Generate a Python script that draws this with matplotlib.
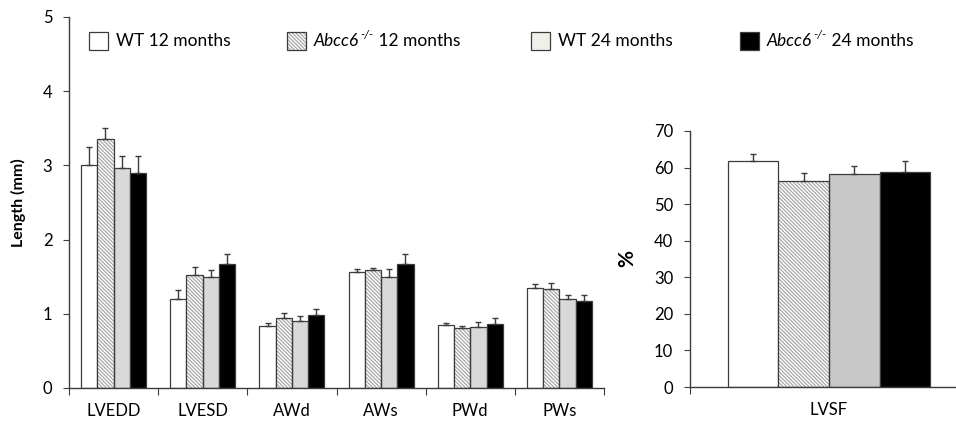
import matplotlib.pyplot as plt
from matplotlib.patches import Rectangle
from matplotlib.text import Annotation
import numpy as np

plt.rcParams["font.family"] = ["Lato", "DejaVu Sans"]
plt.rcParams["hatch.linewidth"] = 0.9

# data
categories = ["LVEDD", "LVESD", "AWd", "AWs", "PWd", "PWs"]
series = ["WT 12 months", "Abcc6 12 months", "WT 24 months", "Abcc6 24 months"]
length_means = [
    [3.00, 1.20, 0.835, 1.563, 0.853, 1.352],
    [3.36, 1.52, 0.947, 1.585, 0.813, 1.339],
    [2.96, 1.49, 0.907, 1.490, 0.827, 1.200],
    [2.90, 1.67, 0.984, 1.670, 0.867, 1.170],
]
length_err = [
    [0.25, 0.12, 0.035, 0.037, 0.023, 0.054],
    [0.15, 0.11, 0.059, 0.035, 0.017, 0.081],
    [0.17, 0.10, 0.059, 0.120, 0.067, 0.060],
    [0.22, 0.13, 0.086, 0.130, 0.080, 0.080],
]
lvsf_means = [61.8, 56.3, 58.3, 58.7]
lvsf_err = [1.9, 2.1, 2.0, 3.0]

faces = ["white", "white", "#d9d9d9", "black"]
faces_right = ["white", "white", "#c8c8c8", "black"]
hatched = [False, True, False, False]
legend_faces = ["white", "white", "#f0efea", "black"]
edge = "#3c3c3c"
hatch_col = "#a8a8a8"
hatch_pat = "\\" * 9
bar_frac = 0.73
bw = bar_frac / 4

W, H = 956, 421
fig = plt.figure(figsize=(W / 100, H / 100), dpi=100)
ax1 = fig.add_axes([69 / W, 1 - 388 / H, 535 / W, 371 / H])
ax2 = fig.add_axes([690 / W, 1 - 387 / H, 278 / W, 256 / H])


def draw_bars(ax, pos, vals, errs, i, face):
    if hatched[i]:
        # hatch in light gray, outline on top in dark gray
        ax.bar(pos, vals, width=bw, color=face, edgecolor=hatch_col,
               linewidth=0, hatch=hatch_pat, zorder=2)
        ax.bar(pos, vals, width=bw, fill=False, edgecolor=edge,
               linewidth=0.9, zorder=2.1)
    else:
        ax.bar(pos, vals, width=bw, color=face, edgecolor=edge,
               linewidth=0.9, zorder=2)
    ax.errorbar(pos, vals, yerr=[np.zeros(len(vals)), errs], fmt="none",
                ecolor=edge, elinewidth=1, capsize=2, capthick=1, zorder=3)


def style_axis(ax, ncat):
    for side in ["top", "right"]:
        ax.spines[side].set_visible(False)
    for side in ["left", "bottom"]:
        ax.spines[side].set_color(edge)
        ax.spines[side].set_linewidth(1.0)
    ax.set_xlim(0, ncat)
    ax.set_xticks(np.arange(ncat + 1))
    ax.set_xticklabels([])
    ax.tick_params(axis="x", which="major", direction="out", length=5, color=edge)
    ax.tick_params(axis="x", which="minor", length=0, pad=11, labelsize=12)
    ax.tick_params(axis="y", direction="out", length=4, color=edge, labelsize=12, pad=8)


x = np.arange(len(categories)) + 0.5
for i in range(4):
    pos = x - bar_frac / 2 + bw * (i + 0.5)
    draw_bars(ax1, pos, length_means[i], length_err[i], i, faces[i])
style_axis(ax1, len(categories))
ax1.set_xticks(x, minor=True)
ax1.set_xticklabels(categories, minor=True)
ax1.set_ylim(0, 5)
ax1.set_yticks(np.arange(0, 6))
ax1.set_ylabel("Length (mm)", fontsize=11.5, fontweight="bold", labelpad=12)

for i in range(4):
    pos = np.array([0.5 - bar_frac / 2 + bw * (i + 0.5)])
    draw_bars(ax2, pos, [lvsf_means[i]], [lvsf_err[i]], i, faces_right[i])
style_axis(ax2, 1)
ax2.set_xticks([0.5], minor=True)
ax2.set_xticklabels(["LVSF"], minor=True)
ax2.set_ylim(0, 70)
ax2.set_yticks(np.arange(0, 71, 10))
ax2.set_ylabel("%", fontsize=15, fontweight="bold", labelpad=12)

# legend built by hand so the superscript sits right
box_x = [89, 287, 531, 740]
for i, name in enumerate(series):
    x0 = box_x[i] / W
    if hatched[i]:
        fig.patches.append(Rectangle((x0, 1 - 50 / H), 19 / W, 18 / H,
                                     transform=fig.transFigure, facecolor="white",
                                     edgecolor=hatch_col, linewidth=0, hatch=hatch_pat))
    fig.patches.append(Rectangle((x0, 1 - 50 / H), 19 / W, 18 / H,
                                 transform=fig.transFigure,
                                 facecolor="none" if hatched[i] else legend_faces[i],
                                 edgecolor=edge, linewidth=0.9))
    tx = (box_x[i] + 27) / W
    if name.startswith("Abcc6"):
        gene, rest = name.split(" ", 1)
        t1 = fig.text(tx, 1 - 41 / H, gene, style="italic", fontsize=12.5, va="center")
        t2 = fig.add_artist(Annotation("-/-", xy=(1, 0.55), xycoords=t1,
                                       xytext=(1, 0), textcoords="offset points",
                                       fontsize=8.5, style="italic", va="bottom",
                                       annotation_clip=False))
        fig.add_artist(Annotation(" " + rest, xy=(1, 0), xycoords=(t2, t1),
                                  xytext=(0, 0), textcoords="offset points",
                                  fontsize=12.5, va="bottom", annotation_clip=False))
    else:
        fig.text(tx, 1 - 41 / H, name, fontsize=12.5, va="center")

fig.savefig("out.png", dpi=100)
